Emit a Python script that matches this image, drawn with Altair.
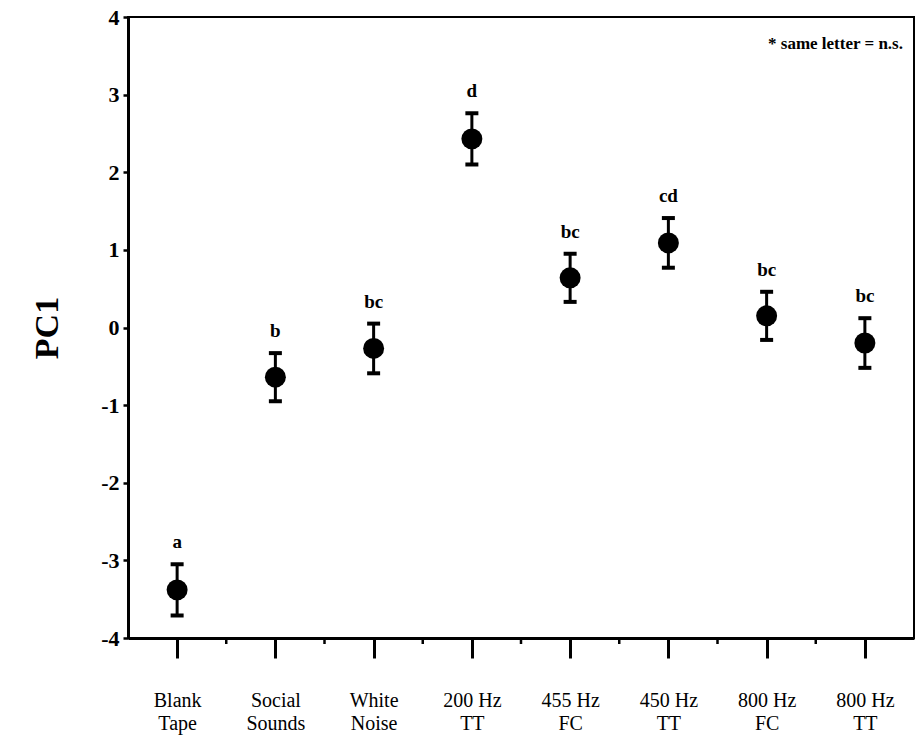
import altair as alt
import pandas as pd

# Stimulus conditions, in plotting order
stimuli = ["Blank Tape", "Social Sounds", "White Noise", "200 Hz TT",
           "455 Hz FC", "450 Hz TT", "800 Hz FC", "800 Hz TT"]
# Two-line tick labels ("|" marks the line break)
tick_labels = ["Blank|Tape", "Social|Sounds", "White|Noise", "200 Hz|TT",
               "455 Hz|FC", "450 Hz|TT", "800 Hz|FC", "800 Hz|TT"]
# Mean PC1 score and its error half-width per stimulus
pc1_mean = [-3.38, -0.64, -0.27, 2.43, 0.64, 1.09, 0.15, -0.20]
pc1_err = [0.33, 0.31, 0.32, 0.33, 0.31, 0.32, 0.31, 0.32]
# Significance groups (same letter = n.s.)
groups = ["a", "b", "bc", "d", "bc", "cd", "bc", "bc"]
# Minor tick positions between stimulus slots
minor_x = [1, 2, 3, 4, 5, 6, 7]

df = pd.DataFrame({
    "stimulus": stimuli,
    "slot": [i + 0.5 for i in range(len(stimuli))],
    "mean": pc1_mean,
    "err": pc1_err,
    "group": groups,
})

FONT = "Liberation Serif"
label_array = "[" + ",".join("'" + s + "'" for s in tick_labels) + "]"

x_scale = alt.Scale(domain=[0, 8], nice=False, zero=False)
x_enc = alt.X(
    "slot:Q",
    scale=x_scale,
    axis=alt.Axis(
        title=None,
        values=[i + 0.5 for i in range(len(stimuli))],
        labelExpr=f"split({label_array}[floor(datum.value)], '|')",
        tickSize=20,
        tickWidth=3,
        tickColor="black",
        domainWidth=3,
        domainColor="black",
        labelFont=FONT,
        labelFontSize=20,
        labelColor="black",
        labelPadding=32,
        labelLineHeight=23,
        labelBaseline="top",
        grid=False,
    ),
)

y_scale = alt.Scale(domain=[-4, 4], nice=False, zero=False)
y_enc = alt.Y(
    "mean:Q",
    scale=y_scale,
    axis=alt.Axis(
        title="PC1",
        titleFont=FONT,
        titleFontSize=34,
        titleFontWeight="bold",
        titleColor="black",
        titlePadding=36,
        values=[-4 + i * 0.5 for i in range(17)],
        labelExpr="datum.value % 1 == 0 ? '' + datum.value : ''",
        tickSize=5,
        tickWidth=2.5,
        tickColor="black",
        domainWidth=3,
        domainColor="black",
        labelFont=FONT,
        labelFontSize=22,
        labelFontWeight="bold",
        labelColor="black",
        labelPadding=4,
        grid=False,
    ),
)

base = alt.Chart(df).transform_calculate(
    lo="datum.mean - datum.err",
    hi="datum.mean + datum.err",
)

stems = base.mark_rule(color="black", strokeWidth=3).encode(
    x=x_enc,
    y=alt.Y("lo:Q", scale=y_scale),
    y2="hi:Q",
)

caps_lo = base.mark_tick(color="black", opacity=1, thickness=4, size=13, orient="horizontal").encode(
    x="slot:Q", y=alt.Y("lo:Q", scale=y_scale)
)
caps_hi = base.mark_tick(color="black", opacity=1, thickness=4, size=13, orient="horizontal").encode(
    x="slot:Q", y=alt.Y("hi:Q", scale=y_scale)
)

dots = base.mark_point(filled=True, color="black", opacity=1, size=440, shape="circle").encode(
    x="slot:Q", y=y_enc
)

letters = base.mark_text(
    font=FONT, fontSize=19, fontWeight="bold", color="black",
    baseline="alphabetic", dy=-16,
).encode(
    x="slot:Q",
    y=alt.Y("hi:Q", scale=y_scale),
    text="group:N",
)

# Short ticks between the stimulus slots on the bottom axis
minor = alt.Chart(pd.DataFrame({"m": minor_x})).mark_rule(
    color="black", strokeWidth=2.5
).encode(
    x=alt.X("m:Q", scale=x_scale),
    y=alt.value(621),
    y2=alt.value(627),
)

note = alt.Chart(pd.DataFrame({"t": ["* same letter = n.s."]})).mark_text(
    font=FONT, fontSize=17, fontWeight="bold", color="black",
    align="right", baseline="middle",
).encode(
    x=alt.value(775),
    y=alt.value(27),
    text="t:N",
)

chart = alt.layer(stems, caps_lo, caps_hi, dots, letters, minor, note).properties(
    width=786,
    height=621,
    autosize=alt.AutoSizeParams(type="none"),
    padding={"left": 128, "top": 17, "right": 3, "bottom": 110},
    background="white",
).configure_view(
    stroke="black",
    strokeWidth=2,
)

chart.save("out.html", embed_options={"renderer": "svg", "actions": False})
